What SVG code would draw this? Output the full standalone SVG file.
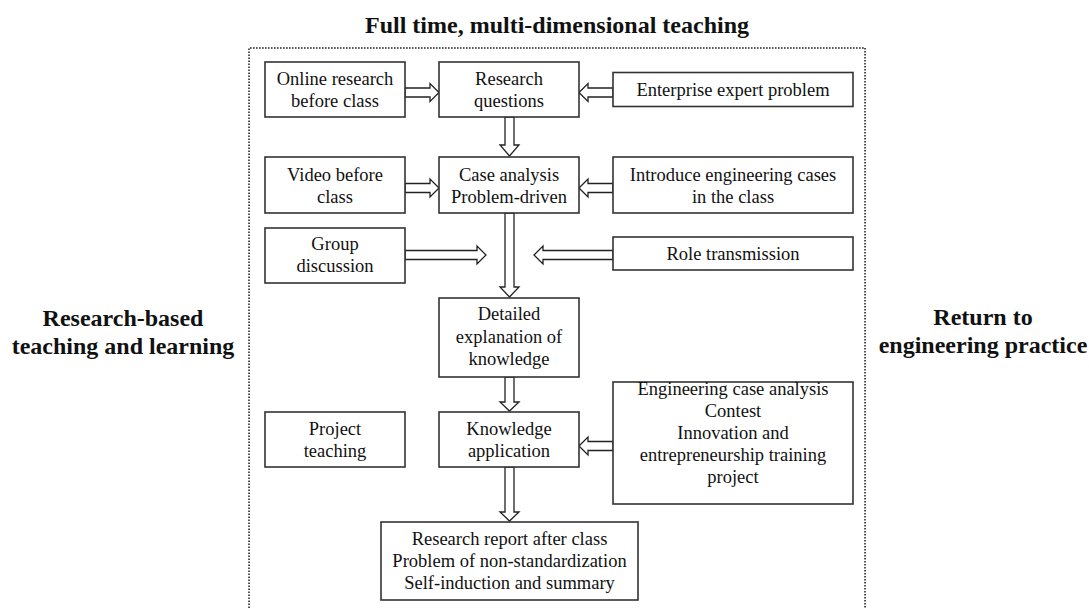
<svg xmlns="http://www.w3.org/2000/svg" width="1089" height="608" viewBox="0 0 1089 608">
<style>
text{font-family:"Liberation Serif","Times New Roman",serif;fill:#111}
.t{font-size:18.5px;text-anchor:middle}
.h{font-size:24px;font-weight:bold;text-anchor:middle}
.box{fill:#fff;stroke:#333;stroke-width:1.6}
.arr{fill:#fff;stroke:#222;stroke-width:1.3;stroke-linejoin:miter}
.frame{fill:none;stroke:#555;stroke-width:2;stroke-dasharray:1.6 1.4}
</style>
<rect width="1089" height="608" fill="#fff"/>
<g id="frame">
<path class="frame" d="M249,608 V48 H865 V608"/>
</g>
<g id="labels">
<text class="h" x="557" y="33">Full time, multi-dimensional teaching</text>
<text class="h" x="123" y="326">Research-based</text>
<text class="h" x="123" y="354">teaching and learning</text>
<text class="h" x="983" y="325">Return to</text>
<text class="h" x="983" y="353">engineering practice</text>
</g>
<g id="connectors">
<polygon class="arr" points="405,88 430,88 430,83.5 439,92.5 430,101.5 430,97 405,97"/>
<polygon class="arr" points="613,88 588,88 588,83.5 579,92.5 588,101.5 588,97 613,97"/>
<polygon class="arr" points="505,117 505,145 500,145 509.5,156 519,145 514,145 514,117"/>
<polygon class="arr" points="405,183.5 430,183.5 430,179 439,188 430,197 430,192.5 405,192.5"/>
<polygon class="arr" points="613,183.5 588,183.5 588,179 579,188 588,197 588,192.5 613,192.5"/>
<polygon class="arr" points="505,213 505,287 500,287 509.5,297 519,287 514,287 514,213"/>
<polygon class="arr" points="405,250.5 477,250.5 477,246 486,255 477,264 477,259.5 405,259.5"/>
<polygon class="arr" points="613,250.5 543,250.5 543,246 534,255 543,264 543,259.5 613,259.5"/>
<polygon class="arr" points="505,377 505,402 500,402 509.5,411 519,402 514,402 514,377"/>
<polygon class="arr" points="613,441.5 588,441.5 588,437 579,446 588,455 588,450.5 613,450.5"/>
<polygon class="arr" points="505,467 505,512 500,512 509.5,521 519,512 514,512 514,467"/>
</g>
<g id="online">
<rect class="box" x="265" y="62" width="140" height="55"/>
<text class="t" x="335" y="85">Online research</text>
<text class="t" x="335" y="107">before class</text>
</g>
<g id="research-questions">
<rect class="box" x="439" y="62" width="140" height="55"/>
<text class="t" x="509" y="85">Research</text>
<text class="t" x="509" y="107">questions</text>
</g>
<g id="enterprise">
<rect class="box" x="613" y="72.5" width="240" height="34"/>
<text class="t" x="733" y="96">Enterprise expert problem</text>
</g>
<g id="video">
<rect class="box" x="265" y="157" width="140" height="56"/>
<text class="t" x="335" y="181">Video before</text>
<text class="t" x="335" y="203">class</text>
</g>
<g id="case-analysis">
<rect class="box" x="439" y="157" width="140" height="56"/>
<text class="t" x="509" y="181">Case analysis</text>
<text class="t" x="509" y="203">Problem-driven</text>
</g>
<g id="introduce">
<rect class="box" x="613" y="157" width="240" height="56"/>
<text class="t" x="733" y="181">Introduce engineering cases</text>
<text class="t" x="733" y="203">in the class</text>
</g>
<g id="group">
<rect class="box" x="265" y="228" width="140" height="55"/>
<text class="t" x="335" y="250">Group</text>
<text class="t" x="335" y="272">discussion</text>
</g>
<g id="role">
<rect class="box" x="613" y="237" width="240" height="33"/>
<text class="t" x="733" y="260">Role transmission</text>
</g>
<g id="detailed">
<rect class="box" x="439" y="298" width="140" height="79"/>
<text class="t" x="509" y="320">Detailed</text>
<text class="t" x="509" y="343">explanation of</text>
<text class="t" x="509" y="365">knowledge</text>
</g>
<g id="project">
<rect class="box" x="265" y="412" width="140" height="55"/>
<text class="t" x="335" y="435">Project</text>
<text class="t" x="335" y="457">teaching</text>
</g>
<g id="knowledge">
<rect class="box" x="439" y="412" width="140" height="55"/>
<text class="t" x="509" y="435">Knowledge</text>
<text class="t" x="509" y="457">application</text>
</g>
<g id="engineering">
<rect class="box" x="613" y="382" width="240" height="122"/>
<text class="t" x="733" y="395">Engineering case analysis</text>
<text class="t" x="733" y="417">Contest</text>
<text class="t" x="733" y="439">Innovation and</text>
<text class="t" x="733" y="461">entrepreneurship training</text>
<text class="t" x="733" y="483">project</text>
</g>
<g id="report">
<rect class="box" x="381" y="522" width="257" height="78"/>
<text class="t" x="509.5" y="545">Research report after class</text>
<text class="t" x="509.5" y="567">Problem of non-standardization</text>
<text class="t" x="509.5" y="589">Self-induction and summary</text>
</g>
</svg>
